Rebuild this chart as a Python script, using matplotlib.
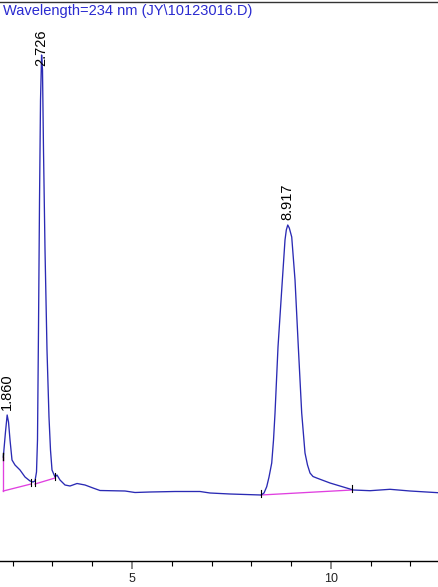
import matplotlib
matplotlib.use("Agg")
import matplotlib.pyplot as plt
from matplotlib.ticker import MultipleLocator, FixedLocator

plt.rcParams['font.family'] = ['Liberation Sans', 'DejaVu Sans']

# ---- data (time in min, signal in mAU) ----
time = [1.763, 1.818, 1.860, 1.894, 1.932, 1.982, 2.057, 2.183, 2.309, 2.435,
        2.510, 2.560, 2.598, 2.623, 2.648, 2.674, 2.699, 2.726, 2.749, 2.774,
        2.812, 2.862, 2.912, 2.950, 2.988, 3.063, 3.114, 3.189, 3.315, 3.441,
        3.617, 3.818, 4.019, 4.195, 4.824, 5.075, 5.453, 6.081, 6.710, 6.962,
        7.465, 8.244, 8.320, 8.388, 8.446, 8.514, 8.559, 8.597, 8.672, 8.765,
        8.848, 8.881, 8.917, 8.956, 9.017, 9.100, 9.183, 9.268, 9.351, 9.414,
        9.477, 9.552, 9.645, 9.980, 10.314, 10.566, 10.986, 11.489, 11.992, 12.696]
signal = [35, 60, 77, 70, 52, 32, 27, 22, 15, 11,
          10, 11, 20, 52, 162, 292, 392, 437, 422, 342,
          242, 142, 75, 42, 22, 15, 17, 12, 7, 6,
          8.5, 7, 4, 1.5, 1, -0.5, 0, 0.5, 0.5, -1,
          -2, -3, -1, 5.3, 15, 29, 52, 79, 145, 202,
          252, 262, 267, 264, 255, 212, 145, 79, 39, 27,
          19, 15.5, 14, 9, 5, 2, 1.3, 2.7, 1, -0.7]

peak_times = [1.860, 2.726, 8.917]
peak_heights = [77, 437, 267]
peak_labels = ["1.860", "2.726", "8.917"]

# integration baselines: (start_t, start_y, end_t, end_y)
base_start_t = [1.763, 2.560, 8.244]
base_start_y = [1.0, 8.0, -3.0]
base_end_t = [2.460, 3.063, 10.533]
base_end_y = [8.0, 14.0, 2.0]

title = "Wavelength=234 nm (JY\\10123016.D)"

# ---- figure ----
W, H, DPI = 438, 587, 100
fig = plt.figure(figsize=(W / DPI, H / DPI), dpi=DPI)
ax = fig.add_axes([0.0, (H - 561) / H, 1.0, (561 - 2) / H])

trace_color = "#2a2ab4"
base_color = "#e040e0"

ax.plot(time, signal, color=trace_color, lw=0.95, zorder=3)

# baselines
ax.plot([base_start_t[0], base_start_t[0]], [signal[0], base_start_y[0]],
        color=base_color, lw=0.95, zorder=2)
for st, sy, et, ey in zip(base_start_t, base_start_y, base_end_t, base_end_y):
    ax.plot([st, et], [sy, ey], color=base_color, lw=0.95, zorder=2)

# event tick marks (black)
tick_len = 7
for t, y in zip(base_end_t[:1] + base_start_t[1:] + base_end_t[1:],
                base_end_y[:1] + base_start_y[1:] + base_end_y[1:]):
    ax.plot([t, t], [y - 2, y + tick_len - 2], color="black", lw=0.8, zorder=4)
ax.plot([time[0], time[0]], [signal[0] - 3, signal[0] + 4], color="black", lw=1.0, zorder=4)

# peak labels
ytop = 490
for t, h, lab in zip(peak_times, peak_heights, peak_labels):
    if h + 4 + 38 > ytop - 20:
        ax.text(t, ytop - 28, lab, rotation=90, ha="center", va="top",
                fontsize=10.5, color="black", zorder=5)
    else:
        ax.text(t, h + 5, lab, rotation=90, ha="center", va="bottom",
                fontsize=10.5, color="black", zorder=5)

ax.text(0.006, 0.997, title, transform=ax.transAxes, ha="left", va="top",
        fontsize=10.5, color="#2a2ad0")

ax.set_xlim(1.680, 12.696)
ax.set_ylim(-69, 490)

for s in ["left", "right"]:
    ax.spines[s].set_visible(False)
ax.spines["top"].set_color("#333333")
ax.spines["top"].set_linewidth(1.0)
ax.spines["bottom"].set_color("black")
ax.spines["bottom"].set_linewidth(1.0)

ax.set_yticks([])
ax.xaxis.set_major_locator(FixedLocator([5, 10]))
ax.xaxis.set_minor_locator(MultipleLocator(1))
ax.tick_params(axis="x", which="major", direction="out", length=6, width=1.4,
               color="#888888", labelsize=9, labelcolor="#222222", pad=3)
ax.tick_params(axis="x", which="minor", direction="out", length=3.5, width=0.8,
               color="black")

fig.savefig("out.png", dpi=DPI)
